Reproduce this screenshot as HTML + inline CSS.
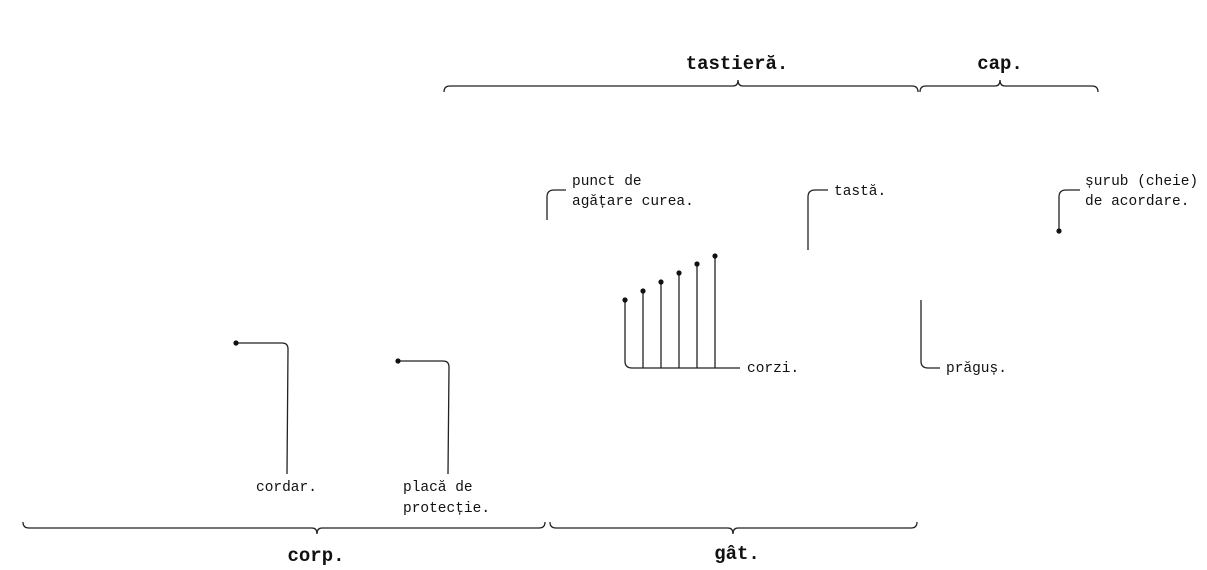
<!DOCTYPE html>
<html><head><meta charset="utf-8"><style>
html,body{margin:0;padding:0;background:#fff;width:1207px;height:570px;overflow:hidden}
svg{display:block}
.s{font-family:"Liberation Mono",monospace;font-size:14.5px;fill:#111}
.b{font-family:"Liberation Mono",monospace;font-size:19px;font-weight:bold;fill:#111}
.l{fill:none;stroke:#222;stroke-width:1.3}
</style></head><body>
<svg id="c" width="1207" height="570" viewBox="0 0 1207 570">
<g id="braces"></g>
<g id="strings"></g>
<g>
<path class="l" d="M236 343 H282 Q288 343 288 349 L287 474"/>
<circle cx="236" cy="343" r="2.6" fill="#111"/>
<path class="l" d="M398 361 H443 Q449 361 449 367 L448 474"/>
<circle cx="398" cy="361" r="2.6" fill="#111"/>
<path class="l" d="M547 220 V197 Q547 190 554 190 H566"/>
<path class="l" d="M808 250 V197 Q808 190 815 190 H828"/>
<path class="l" d="M921 300 V361 Q921 368 928 368 H940"/>
<path class="l" d="M1059 231 V197 Q1059 190 1066 190 H1080"/>
<circle cx="1059" cy="231" r="2.6" fill="#111"/>
</g>
<g>
<text class="b" x="737" y="69" text-anchor="middle">tastieră.</text>
<text class="b" x="1000" y="69" text-anchor="middle">cap.</text>
<text class="b" x="316" y="561" text-anchor="middle">corp.</text>
<text class="b" x="737" y="559" text-anchor="middle">gât.</text>
<text class="s" x="256" y="491">cordar.</text>
<text class="s" x="403" y="491">placă de</text>
<text class="s" x="403" y="512">protecție.</text>
<text class="s" x="572" y="185">punct de</text>
<text class="s" x="572" y="205">agățare curea.</text>
<text class="s" x="834" y="195">tastă.</text>
<text class="s" x="747" y="372">corzi.</text>
<text class="s" x="946" y="372">prăguș.</text>
<text class="s" x="1085" y="185">șurub (cheie)</text>
<text class="s" x="1085" y="205">de acordare.</text>
</g>
</svg>
<script>
const stringIndex=[1,2,3,4,5,6];
const stringTops=[300,291,282,273,264,256];
const braceStarts=[444,920,23,550];
const braceEnds=[918,1098,545,917];
const braceApex=[738,1000,317,733];
const braceDir=[-1,-1,1,1];
const NS="http://www.w3.org/2000/svg";
const xS=i=>625+(i-1)*18;
const base=368;
const sg=document.getElementById('strings');
const bp=document.createElementNS(NS,'path');
bp.setAttribute('class','l');
bp.setAttribute('d',`M${xS(1)} ${stringTops[0]} V${base-7} Q${xS(1)} ${base} ${xS(1)+7} ${base} H740`);


sg.appendChild(bp);
stringIndex.forEach((s,k)=>{
  const x=xS(s);
  if(k>0){
    const ln=document.createElementNS(NS,'line');
    ln.setAttribute('x1',x);ln.setAttribute('x2',x);ln.setAttribute('y1',stringTops[k]);ln.setAttribute('y2',base);
    ln.setAttribute('class','l');
    
    
    sg.appendChild(ln);
  }
  const c=document.createElementNS(NS,'circle');
  c.setAttribute('cx',x);c.setAttribute('cy',stringTops[k]);c.setAttribute('r',2.6);c.setAttribute('fill','#111');
  
  
  sg.appendChild(c);
});
const bg=document.getElementById('braces');
braceStarts.forEach((a,k)=>{
  const b=braceEnds[k],m=braceApex[k],d=braceDir[k];
  const y=d<0?86:528, e=y-6*d, t=y+6*d;
  const p=document.createElementNS(NS,'path');
  p.setAttribute('class','l');
  p.setAttribute('d',`M${a} ${e} Q${a} ${y} ${a+6} ${y} H${m-5} Q${m} ${y} ${m} ${t} Q${m} ${y} ${m+5} ${y} H${b-6} Q${b} ${y} ${b} ${e}`);
  
  
  bg.appendChild(p);
});
</script>
</body></html>
